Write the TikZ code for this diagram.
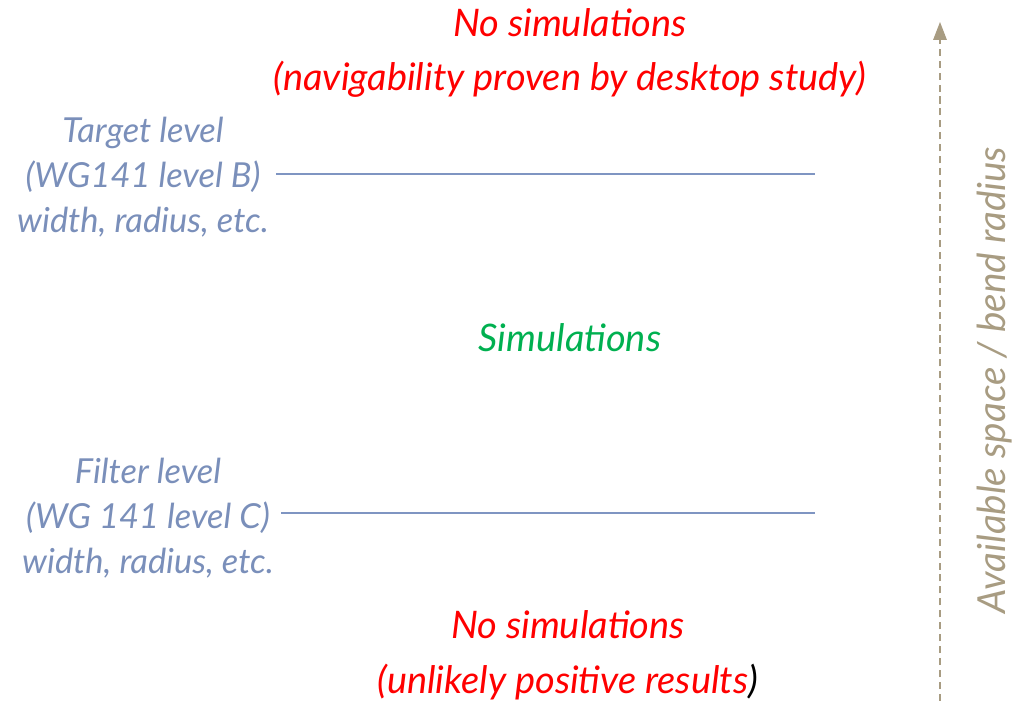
\documentclass[tikz,border=0pt]{standalone}
\usepackage{fontspec}
\setmainfont{Lato}
\usetikzlibrary{arrows.meta,positioning}
\definecolor{lvlblue}{HTML}{7A8FBA}
\definecolor{linblue}{HTML}{7F95C2}
\definecolor{simred}{HTML}{FF0000}
\definecolor{simgreen}{HTML}{00B050}
\definecolor{axtan}{HTML}{A89C82}

\begin{document}
\begin{tikzpicture}[
  redtxt/.style={align=center, text=simred, font=\fontsize{27}{39}\selectfont\itshape, inner sep=0pt},
  lvltxt/.style={align=center, text=lvlblue, font=\fontsize{24.5}{32}\selectfont\itshape, inner sep=5pt},
  lvlline/.style={linblue, line width=0.9pt},
  axarr/.style={axtan, dashed, line width=0.9pt, dash pattern=on 5pt off 3.5pt, -{Triangle[length=4.5mm, width=3.4mm]}},
]
  \useasboundingbox (0,0) rectangle (25.825,17.525);

  % Top: above target level
  \node[redtxt] (nosimtop) at (14.25, 16.2) {No simulations\\(navigability proven by desktop study)};

  % Target level
  \node[lvltxt] (target) at (3.575, 13.1) {Target level\\(WG141 level B)\\width, radius, etc.};
  \coordinate (targetend) at (20.375, 13.175);
  \draw[lvlline] (target.east |- targetend) -- (targetend);

  % Middle
  \node[align=center, text=simgreen, font=\fontsize{27}{39}\selectfont\itshape] (sim) at (14.25, 9.075) {Simulations};

  % Filter level
  \node[lvltxt] (filter) at (3.7, 4.575) {Filter level\\(WG 141 level C)\\width, radius, etc.};
  \coordinate (filterend) at (20.375, 4.7);
  \draw[lvlline] (filter.east |- filterend) -- (filterend);

  % Bottom: below filter level
  \node[redtxt] (nosimbot) at (14.2, 1.15) {No simulations\\(unlikely positive results\textcolor{black}{)}};

  % Right: axis
  \coordinate (axbot) at (23.5, 0);
  \coordinate (axtop) at (23.5, 16.975);
  \draw[axarr] (axbot) -- (axtop);
  \node[rotate=90, text=axtan, font=\fontsize{27.5}{30}\selectfont\itshape] (axlabel) at (24.875, 8.025) {Available space / bend radius};
\end{tikzpicture}
\end{document}
